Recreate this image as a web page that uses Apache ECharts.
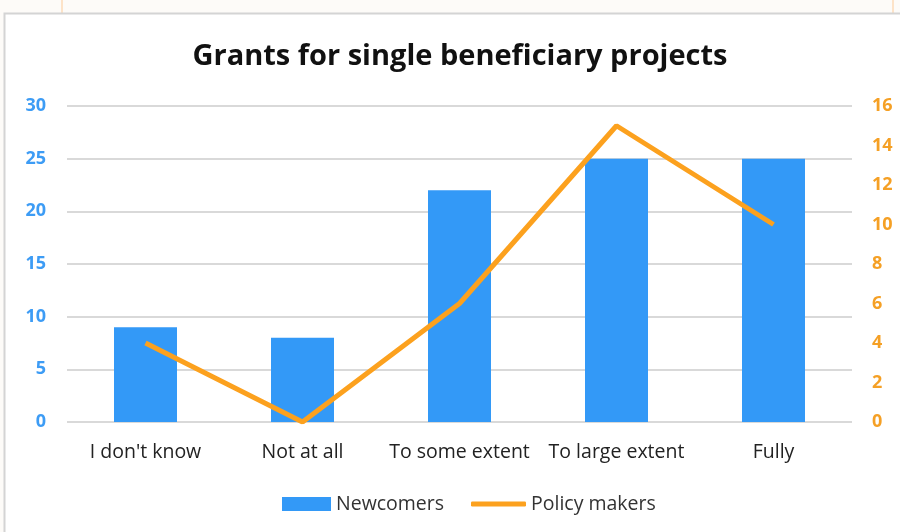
<!DOCTYPE html>
<html><head><meta charset="utf-8">
<script src="https://cdn.jsdelivr.net/npm/echarts@6/dist/echarts.min.js"></script>
<style>html,body{margin:0;padding:0;background:#fdfbf8}#c{width:900px;height:532px}</style>
</head><body><div id="c"></div>
<script>
var categories = ["I don't know", "Not at all", "To some extent", "To large extent", "Fully"];
var newcomers = [9, 8, 22, 25, 25];
var policyMakers = [4, 0, 6, 15, 10];
var leftTicks = [0, 5, 10, 15, 20, 25, 30];
var rightTicks = [0, 2, 4, 6, 8, 10, 12, 14, 16];

var chart = echarts.init(document.getElementById('c'));
chart.setOption({
  backgroundColor: '#fdfbf8',
  animation: false,
  graphic: [
    {type:'line', shape:{x1:62,y1:0,x2:62,y2:13}, style:{stroke:'#fde3c8', lineWidth:2}, z:-1},
    {type:'line', shape:{x1:893,y1:0,x2:893,y2:13}, style:{stroke:'#fde3c8', lineWidth:2}, z:-1},
    {type:'rect', shape:{x:4.5,y:13.5,width:910,height:540}, style:{fill:'#ffffff', stroke:'#d4d4d4', lineWidth:2}, z:-1}
  ],
  title: {
    text: 'Grants for single beneficiary projects',
    left: 455, top: 37, textAlign: 'center',
    textStyle: {fontFamily: 'Open Sans', fontSize: 29, fontWeight: 'bold', color: '#111'}
  },
  legend: [
    {left: 277, top: 489, itemGap: 5, itemWidth: 49, itemHeight: 14,
     textStyle: {fontFamily: 'Open Sans', fontSize: 19.5, color: '#333'},
     data: [{name:'Newcomers', icon:'rect'}]},
    {left: 466, top: 489, itemWidth: 55, itemHeight: 5,
     textStyle: {fontFamily: 'Open Sans', fontSize: 19.5, color: '#333'},
     data: [{name:'Policy makers', icon:'roundRect'}]}
  ],
  grid: {left: 67, right: 48, top: 106, bottom: 110},
  xAxis: {
    type: 'category', data: categories,
    axisLine: {show: false}, axisTick: {show: false},
    axisLabel: {interval: 0, fontFamily: 'Open Sans', fontSize: 19.5, color: '#222', margin: 20}
  },
  yAxis: [
    {type: 'value', min: 0, max: 30, interval: 5, position: 'left',
     axisLabel: {fontFamily: 'Open Sans', fontSize: 18, fontWeight: 'bold', color: '#3d9cf5', margin: 21},
     splitLine: {lineStyle: {color: '#d9d9d9', width: 2}},
     axisLine: {show: false}, axisTick: {show: false}},
    {type: 'value', min: 0, max: 16, interval: 2, position: 'right',
     axisLabel: {fontFamily: 'Open Sans', fontSize: 18, fontWeight: 'bold', color: '#f5a025', margin: 20},
     splitLine: {show: false},
     axisLine: {show: false}, axisTick: {show: false}}
  ],
  series: [
    {name: 'Newcomers', type: 'bar', data: newcomers, yAxisIndex: 0, barWidth: 63,
     itemStyle: {color: '#3399f7'}},
    {name: 'Policy makers', type: 'line', data: policyMakers, yAxisIndex: 1,
     symbol: 'none', lineStyle: {color: '#fca11e', width: 5}, itemStyle: {color: '#fca11e'}}
  ]
});
</script></body></html>
